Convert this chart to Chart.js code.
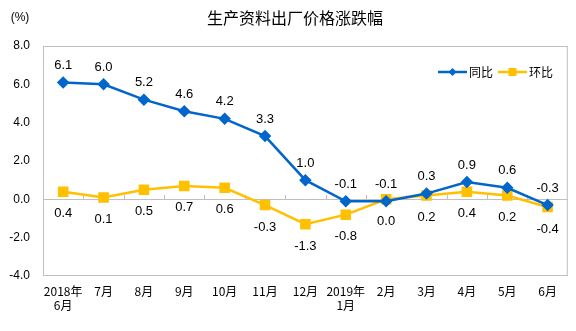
<!DOCTYPE html>
<html>
<head>
<meta charset="utf-8">
<script src="https://cdn.jsdelivr.net/npm/chart.js@4"></script>
<style>
  html, body { margin: 0; padding: 0; background: #fff; }
  #wrap { width: 576px; height: 331px; position: relative; }
</style>
</head>
<body>
<div id="wrap"><canvas id="chart" width="576" height="331"></canvas></div>
<script>
var months = [['2018年', '6月'], '7月', '8月', '9月', '10月', '11月', '12月', ['2019年', '1月'], '2月', '3月', '4月', '5月', '6月'];
var yoyValues = [6.1, 6.0, 5.2, 4.6, 4.2, 3.3, 1.0, -0.1, -0.1, 0.3, 0.9, 0.6, -0.3];
var momValues = [0.4, 0.1, 0.5, 0.7, 0.6, -0.3, -1.3, -0.8, 0.0, 0.2, 0.4, 0.2, -0.4];
var yTicks = [-4, -2, 0, 2, 4, 6, 8];

var BLUE = '#0066CC';
var YELLOW = '#FFC000';
var NUM_FONT = "'Liberation Sans', Arial, 'Noto Sans CJK SC', sans-serif";
var CJK_FONT = "'Noto Sans CJK SC', 'Liberation Sans', sans-serif";

// frame, zero line, value labels, title, legend
var decorPlugin = {
  id: 'decor',
  beforeDatasetsDraw: function (chart) {
    var ctx = chart.ctx, a = chart.chartArea;
    var y0 = chart.scales.y.getPixelForValue(0);
    ctx.save();
    ctx.strokeStyle = '#BFBFBF';
    ctx.lineWidth = 1;
    ctx.strokeRect(a.left + 0.5, a.top + 0.5, a.right - a.left - 1, a.bottom - a.top - 1);
    ctx.beginPath();
    ctx.moveTo(a.left, Math.round(y0) + 0.5);
    ctx.lineTo(a.right, Math.round(y0) + 0.5);
    var step = (a.right - a.left) / months.length;
    for (var i = 1; i < months.length; i++) {
      var x = Math.round(a.left + step * i) + 0.5;
      ctx.moveTo(x, Math.round(y0) + 0.5);
      ctx.lineTo(x, Math.round(y0) - 4);
    }
    ctx.stroke();
    ctx.restore();
  },
  afterDatasetsDraw: function (chart) {
    var ctx = chart.ctx;
    ctx.save();
    ctx.font = '13px ' + NUM_FONT;
    ctx.fillStyle = '#000';
    ctx.textAlign = 'center';
    ctx.textBaseline = 'middle';
    chart.data.datasets.forEach(function (ds, di) {
      var meta = chart.getDatasetMeta(di);
      meta.data.forEach(function (pt, i) {
        var off = di === 0 ? -17 : 22;
        ctx.fillText(ds.data[i].toFixed(1), pt.x, pt.y + off);
      });
    });

    // title and unit
    ctx.font = '16px ' + CJK_FONT;
    ctx.fillText('生产资料出厂价格涨跌幅', 295, 18);
    ctx.font = '12px ' + NUM_FONT;
    ctx.fillText('(%)', 20, 18);

    // legend
    var items = [
      { label: '同比', color: BLUE, x: 438, shape: 'diamond' },
      { label: '环比', color: YELLOW, x: 498, shape: 'square' }
    ];
    var ly = 72;
    items.forEach(function (it) {
      ctx.strokeStyle = it.color;
      ctx.fillStyle = it.color;
      ctx.lineWidth = 2.5;
      ctx.beginPath();
      ctx.moveTo(it.x, ly);
      ctx.lineTo(it.x + 29, ly);
      ctx.stroke();
      var cx = it.x + 14.5;
      ctx.beginPath();
      if (it.shape === 'diamond') {
        ctx.moveTo(cx, ly - 4); ctx.lineTo(cx + 4, ly); ctx.lineTo(cx, ly + 4); ctx.lineTo(cx - 4, ly);
      } else {
        ctx.rect(cx - 4, ly - 4, 8, 8);
      }
      ctx.fill();
      ctx.fillStyle = '#000';
      ctx.font = '12px ' + CJK_FONT;
      ctx.textAlign = 'left';
      ctx.fillText(it.label, it.x + 31, ly);
    });
    ctx.restore();
  }
};

new Chart(document.getElementById('chart'), {
  type: 'line',
  data: {
    labels: months,
    datasets: [
      {
        label: '同比',
        data: yoyValues,
        borderColor: BLUE,
        backgroundColor: BLUE,
        borderWidth: 2.5,
        pointStyle: 'rectRot',
        pointRadius: 4.5,
        pointHoverRadius: 4.5,
        tension: 0
      },
      {
        label: '环比',
        data: momValues,
        borderColor: YELLOW,
        backgroundColor: YELLOW,
        borderWidth: 2.5,
        pointStyle: 'rect',
        pointRadius: 5.7,
        pointHoverRadius: 5.7,
        tension: 0
      }
    ]
  },
  options: {
    responsive: false,
    animation: false,
    layout: { padding: { top: 46, right: 8, left: 0, bottom: 0 } },
    plugins: {
      legend: { display: false },
      title: { display: false },
      tooltip: { enabled: false }
    },
    scales: {
      x: {
        offset: true,
        grid: { display: false, drawTicks: false },
        border: { display: false },
        ticks: {
          color: '#000',
          padding: 8,
          maxRotation: 0,
          autoSkip: false,
          font: { family: CJK_FONT, size: 12 }
        },
        afterFit: function (s) { s.height = 55; }
      },
      y: {
        min: -4,
        max: 8,
        afterBuildTicks: function (s) {
          s.ticks = yTicks.map(function (v) { return { value: v }; });
        },
        grid: { display: false, drawTicks: false },
        border: { display: false },
        ticks: {
          color: '#000',
          padding: 13,
          font: { family: NUM_FONT, size: 12 },
          callback: function (v) { return v.toFixed(1); }
        },
        afterFit: function (s) { s.width = 43; }
      }
    }
  },
  plugins: [decorPlugin]
});
</script>
</body>
</html>
